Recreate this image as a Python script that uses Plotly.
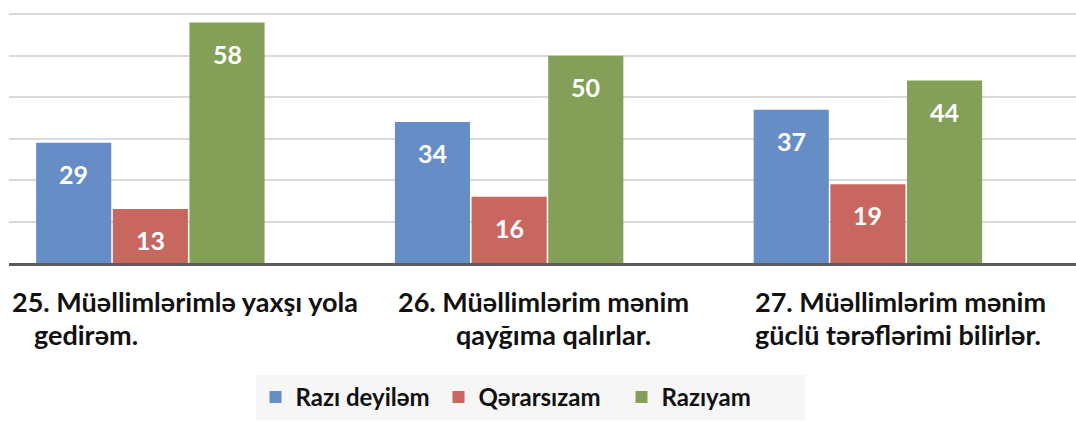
import plotly.graph_objects as go

# ---- data ----
categories = [0, 1, 2]
label_lines = [
    ["25. Müəllimlərimlə yaxşı yola", "gedirəm."],
    ["26. Müəllimlərim mənim", "qayğıma qalırlar."],
    ["27. Müəllimlərim mənim", "güclü tərəflərimi bilirlər."],
]
series_names = ["Razı deyiləm", "Qərarsızam", "Razıyam"]
razi_deyilem = [29, 34, 37]
qerarsizam = [13, 16, 19]
raziyam = [58, 50, 44]

series_values = [razi_deyilem, qerarsizam, raziyam]
colors = ["#668dc6", "#c8675f", "#84a058"]

FONT = "Lato"
W, H = 1076, 421
ML, MR, MT, MB = 9, 0, 0, 158
BARGAP = 0.359

fig = go.Figure()
for name, vals, col in zip(series_names, series_values, colors):
    fig.add_trace(go.Bar(
        x=categories, y=vals, name=name,
        marker=dict(color=col, line=dict(width=0)),
        hoverinfo="skip",
    ))

# data labels (white, inside near top)
slot = (1 - BARGAP) / len(series_names)
for j, vals in enumerate(series_values):
    for i, v in enumerate(vals):
        fig.add_annotation(
            x=categories[i] + (j - 1) * slot, y=v, xref="x", yref="y",
            text=f"<b>{v}</b>", showarrow=False, yshift=-31,
            font=dict(family=FONT, size=25, color="white"),
        )

# category labels (per line, left-anchored)
plot_w = W - ML - MR
plot_h = H - MT - MB
line_starts = [[10, 32], [396, 454], [753, 753]]
line_y_px = [301, 334]
for i, lines in enumerate(label_lines):
    for k, t in enumerate(lines):
        fig.add_annotation(
            x=(line_starts[i][k] - ML) / plot_w, xref="paper",
            y=(plot_h - (line_y_px[k] - MT)) / plot_h, yref="paper",
            xanchor="left", yanchor="middle", showarrow=False,
            text=f"<b>{t}</b>", font=dict(family=FONT, size=27, color="#111111"),
        )

fig.update_layout(
    width=W, height=H,
    margin=dict(l=ML, r=MR, t=MT, b=MB, autoexpand=False),
    paper_bgcolor="white", plot_bgcolor="white",
    barmode="group", bargap=BARGAP, bargroupgap=0.02,
    showlegend=True,
    legend=dict(
        orientation="h", x=(530 - ML) / plot_w, xanchor="center",
        y=(plot_h - (H - 1 - MT)) / plot_h, yanchor="bottom",
        bgcolor="#f6f6f6",
        font=dict(family=FONT, size=24, color="#111111", weight="bold"),
        itemwidth=30, traceorder="normal",
        entrywidth=138, entrywidthmode="pixels",
    ),
    xaxis=dict(
        range=[-0.394, 2.580], showticklabels=False, showgrid=False,
        zeroline=False, showline=True, linecolor="#5a5a5a", linewidth=3,
        ticks="",
    ),
    yaxis=dict(
        range=[0, 63.45], showticklabels=False, tickvals=[10, 20, 30, 40, 50, 60],
        showgrid=True, gridcolor="#d9d9d9", gridwidth=2, zeroline=False,
        showline=False, ticks="",
    ),
)

fig.write_html(
    "out.html",
    config={"displayModeBar": False},
    post_script="document.body.style.margin='0';",
)
